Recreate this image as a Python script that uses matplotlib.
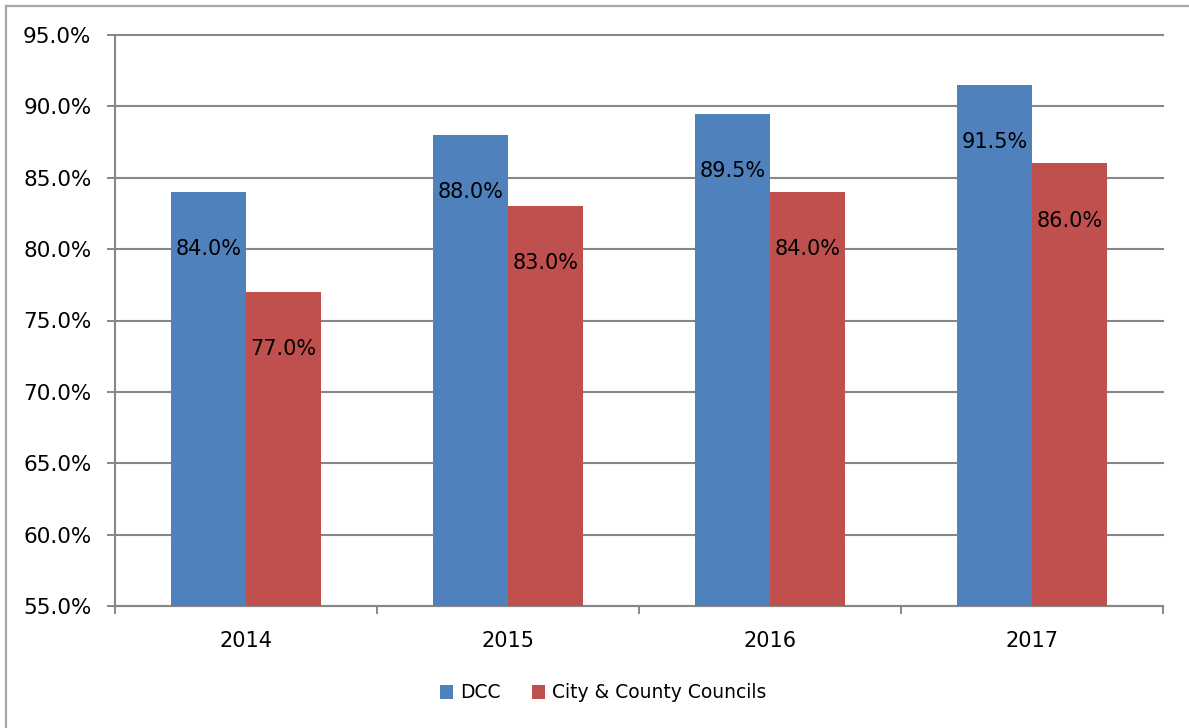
import matplotlib.pyplot as plt
from matplotlib.lines import Line2D
from matplotlib.ticker import FixedLocator

years = ["2014", "2015", "2016", "2017"]
dcc = [84.0, 88.0, 89.5, 91.5]
councils = [77.0, 83.0, 84.0, 86.0]
series_names = ["DCC", "City & County Councils"]
y_ticks = [55, 60, 65, 70, 75, 80, 85, 90, 95]

BLUE = "#4F81BD"
RED = "#C0504D"
GRID = "#878787"

plt.rcParams["font.family"] = ["DejaVu Sans"]

fig = plt.figure(figsize=(11.89, 7.28), dpi=100)
ax = fig.add_axes([115 / 1189, 1 - 606 / 728, (1163 - 115) / 1189, (606 - 35) / 728])

width = 75 / 262
xs = range(len(years))
b1 = ax.bar([x - width / 2 for x in xs], dcc, width, color=BLUE, label=series_names[0], zorder=3)
b2 = ax.bar([x + width / 2 for x in xs], councils, width, color=RED, label=series_names[1], zorder=3)

for bars, vals in ((b1, dcc), (b2, councils)):
    for bar, v in zip(bars, vals):
        ax.text(bar.get_x() + bar.get_width() / 2, v - 4.0, f"{v:.1f}%",
                ha="center", va="center", fontsize=15, color="black", zorder=4)

ax.set_ylim(55, 95)
ax.set_xlim(-0.5, len(years) - 0.5)
ax.set_yticks(y_ticks)
ax.set_yticklabels([f"{t:.1f}%" for t in y_ticks], fontsize=15.5)
ax.set_xticks(list(xs))
ax.set_xticklabels(years, fontsize=15)
ax.xaxis.set_minor_locator(FixedLocator([i - 0.5 for i in range(len(years) + 1)]))
ax.tick_params(axis="x", which="major", length=0, pad=18)
ax.tick_params(axis="x", which="minor", length=6, width=1.4, color=GRID)
ax.tick_params(axis="y", length=6, width=1.4, color=GRID, pad=11)

ax.grid(axis="y", color=GRID, linewidth=1.5, zorder=0)
for gl in ax.get_ygridlines():
    gl.set_clip_on(False)
for side in ("top", "right"):
    ax.spines[side].set_visible(False)
for side in ("left", "bottom"):
    ax.spines[side].set_color(GRID)
    ax.spines[side].set_linewidth(1.5)

fig.legend(handles=[b1, b2], labels=series_names, loc="center",
           bbox_to_anchor=(603 / 1189, 1 - 693 / 728), ncol=2, frameon=False,
           fontsize=13.5, handlelength=0.7, handleheight=0.7, handletextpad=0.35,
           columnspacing=1.7)

# outer chart border (only left and top edges fall inside the image)
fig.add_artist(Line2D([5.5 / 1189, 5.5 / 1189], [0, 1 - 5.5 / 728], color="#a6a6a6", lw=1.6))
fig.add_artist(Line2D([5.5 / 1189, 1], [1 - 5.5 / 728, 1 - 5.5 / 728], color="#a6a6a6", lw=1.6))

fig.savefig("out.png", dpi=100, facecolor="white")
